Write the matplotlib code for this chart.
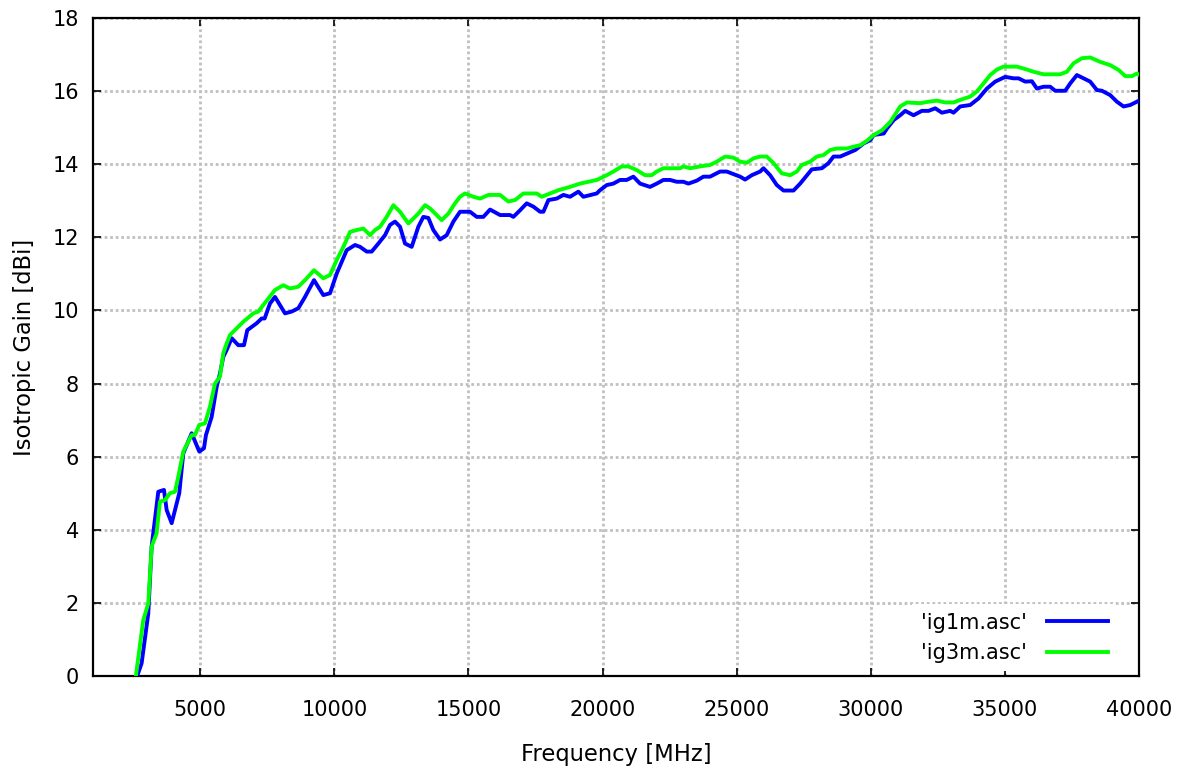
import matplotlib
matplotlib.use("Agg")
import matplotlib.pyplot as plt

freq_1m = [2650, 2815, 3063, 3188, 3436, 3648, 3748, 3935, 4218, 4368, 4680, 4964, 5139, 5213, 5426, 5612, 5736, 5860, 5986, 6172, 6418, 6631, 6754, 7104, 7290, 7400, 7600, 7787, 8160, 8410, 8656, 8906, 9241, 9588, 9838, 10088, 10461, 10770, 10957, 11206, 11392, 11640, 11889, 12075, 12261, 12448, 12634, 12883, 13131, 13318, 13504, 13690, 13939, 14188, 14436, 14685, 15058, 15307, 15555, 15804, 16177, 16550, 16674, 16923, 17171, 17420, 17669, 17793, 17980, 18290, 18539, 18787, 19097, 19284, 19781, 19905, 20154, 20402, 20650, 20899, 21148, 21396, 21769, 22018, 22266, 22515, 22764, 23012, 23199, 23509, 23758, 24007, 24380, 24629, 24877, 25126, 25313, 25562, 25873, 25997, 26246, 26495, 26744, 27117, 27365, 27800, 28174, 28422, 28609, 28857, 29173, 29423, 29734, 29983, 30107, 30480, 30604, 30853, 31095, 31281, 31592, 31903, 32152, 32400, 32649, 32958, 33083, 33331, 33704, 34015, 34326, 34636, 35009, 35320, 35506, 35755, 36004, 36190, 36438, 36687, 36873, 37246, 37433, 37681, 37930, 38178, 38427, 38614, 38925, 39174, 39422, 39671, 39920, 40000]
gain_1m = [0, 0.35, 1.71, 3.54, 5.04, 5.09, 4.54, 4.18, 5.0, 6.09, 6.64, 6.14, 6.23, 6.59, 7.09, 7.91, 8.28, 8.73, 8.92, 9.24, 9.05, 9.05, 9.46, 9.65, 9.78, 9.78, 10.19, 10.37, 9.92, 9.97, 10.06, 10.37, 10.83, 10.42, 10.47, 11.01, 11.65, 11.79, 11.74, 11.61, 11.61, 11.83, 12.06, 12.34, 12.43, 12.29, 11.83, 11.74, 12.29, 12.56, 12.53, 12.2, 11.94, 12.06, 12.43, 12.7, 12.7, 12.56, 12.56, 12.76, 12.61, 12.61, 12.56, 12.74, 12.93, 12.84, 12.7, 12.7, 13.02, 13.06, 13.16, 13.11, 13.25, 13.11, 13.2, 13.29, 13.43, 13.47, 13.57, 13.57, 13.66, 13.47, 13.38, 13.47, 13.57, 13.57, 13.52, 13.52, 13.47, 13.55, 13.66, 13.66, 13.8, 13.8, 13.73, 13.66, 13.58, 13.7, 13.8, 13.89, 13.7, 13.43, 13.28, 13.28, 13.47, 13.86, 13.89, 14.03, 14.21, 14.21, 14.31, 14.39, 14.57, 14.66, 14.8, 14.84, 14.98, 15.21, 15.34, 15.46, 15.34, 15.46, 15.46, 15.53, 15.41, 15.46, 15.41, 15.58, 15.62, 15.8, 16.07, 16.26, 16.39, 16.35, 16.35, 16.26, 16.27, 16.07, 16.12, 16.12, 16.01, 16.01, 16.21, 16.44, 16.35, 16.26, 16.03, 16.01, 15.89, 15.71, 15.58, 15.62, 15.71, 15.74]

freq_3m = [2600, 2876, 3063, 3188, 3372, 3498, 3685, 3871, 4058, 4181, 4368, 4680, 4800, 4964, 5176, 5363, 5550, 5736, 5860, 5986, 6110, 6358, 6605, 6978, 7165, 7351, 7787, 8097, 8346, 8656, 8906, 9241, 9588, 9838, 10088, 10337, 10586, 10834, 11083, 11330, 11516, 11702, 11951, 12200, 12448, 12758, 13131, 13380, 13566, 13815, 14001, 14250, 14498, 14685, 14871, 15182, 15431, 15742, 16177, 16488, 16737, 17047, 17545, 17731, 18042, 18352, 18787, 19160, 19657, 19781, 20154, 20402, 20713, 20961, 21272, 21583, 21831, 22018, 22266, 22888, 23012, 23261, 23633, 24007, 24256, 24568, 24877, 25126, 25375, 25624, 25873, 26121, 26371, 26681, 26992, 27240, 27427, 27738, 27987, 28236, 28484, 28733, 29106, 29355, 29603, 29852, 30107, 30418, 30729, 31095, 31344, 31840, 32152, 32462, 32773, 33083, 33331, 33704, 33953, 34201, 34450, 34699, 34948, 35445, 35818, 36066, 36438, 37060, 37309, 37557, 37868, 38178, 38551, 38925, 39235, 39484, 39733, 39920, 40000]
gain_3m = [0, 1.53, 1.99, 3.54, 3.9, 4.77, 4.81, 5.0, 5.04, 5.45, 6.14, 6.59, 6.59, 6.87, 6.91, 7.37, 8.0, 8.19, 8.83, 9.1, 9.33, 9.51, 9.69, 9.92, 9.97, 10.15, 10.56, 10.69, 10.6, 10.65, 10.83, 11.1, 10.88, 10.97, 11.38, 11.74, 12.15, 12.2, 12.24, 12.06, 12.2, 12.29, 12.56, 12.88, 12.7, 12.38, 12.65, 12.88, 12.79, 12.61, 12.47, 12.65, 12.93, 13.11, 13.2, 13.11, 13.06, 13.16, 13.16, 12.98, 13.02, 13.2, 13.2, 13.11, 13.2, 13.29, 13.38, 13.47, 13.55, 13.57, 13.7, 13.8, 13.94, 13.94, 13.84, 13.7, 13.7, 13.8, 13.89, 13.89, 13.94, 13.89, 13.94, 13.98, 14.07, 14.21, 14.18, 14.07, 14.04, 14.16, 14.21, 14.21, 14.03, 13.75, 13.7, 13.8, 13.98, 14.07, 14.21, 14.25, 14.39, 14.43, 14.43, 14.48, 14.52, 14.64, 14.8, 14.93, 15.16, 15.58, 15.69, 15.67, 15.71, 15.74, 15.69, 15.69, 15.76, 15.85, 15.99, 16.21, 16.44, 16.59, 16.67, 16.67, 16.59, 16.53, 16.46, 16.46, 16.53, 16.76, 16.9, 16.92, 16.8, 16.71, 16.58, 16.41, 16.41, 16.48, 16.45]

x_ticks = [5000, 10000, 15000, 20000, 25000, 30000, 35000, 40000]
y_ticks = [0, 2, 4, 6, 8, 10, 12, 14, 16, 18]
labels = ["'ig1m.asc'", "'ig3m.asc'"]

plt.rcParams['font.family'] = ['DejaVu Sans']
fig = plt.figure(figsize=(11.81, 7.73), dpi=100)
ax = fig.add_axes([0.0787, 0.1255, 0.8858, 0.8512])

ax.plot(freq_1m, gain_1m, color='#0000ff', lw=2.8, label=labels[0], zorder=3)
ax.plot(freq_3m, gain_3m, color='#00ff00', lw=2.8, label=labels[1], zorder=3)

ax.set_xlim(1000, 40000)
ax.set_ylim(0, 18)
ax.set_xticks(x_ticks)
ax.set_yticks(y_ticks)
ax.tick_params(direction='in', length=6, width=1.2, top=True, right=True,
               labelsize=15)
ax.tick_params(axis='x', pad=17)
ax.tick_params(axis='y', pad=10)
ax.grid(True, color='#c0c0c0', linestyle=(0, (1, 1)), lw=2.0, zorder=0)
for s in ax.spines.values():
    s.set_linewidth(1.6)

ax.set_xlabel('Frequency [MHz]', fontsize=16.3, labelpad=17)
ax.set_ylabel('Isotropic Gain [dBi]', fontsize=16.3, labelpad=12)

leg = ax.legend(loc='lower right', bbox_to_anchor=(0.98, 0.004), fontsize=15,
                markerfirst=False, frameon=True,
                facecolor='white', edgecolor='none', framealpha=1.0, fancybox=False,
                handlelength=2.9, handletextpad=1.0, borderaxespad=0.1,
                labelspacing=0.5)
leg.set_zorder(5)

fig.savefig('out.png', dpi=100)
